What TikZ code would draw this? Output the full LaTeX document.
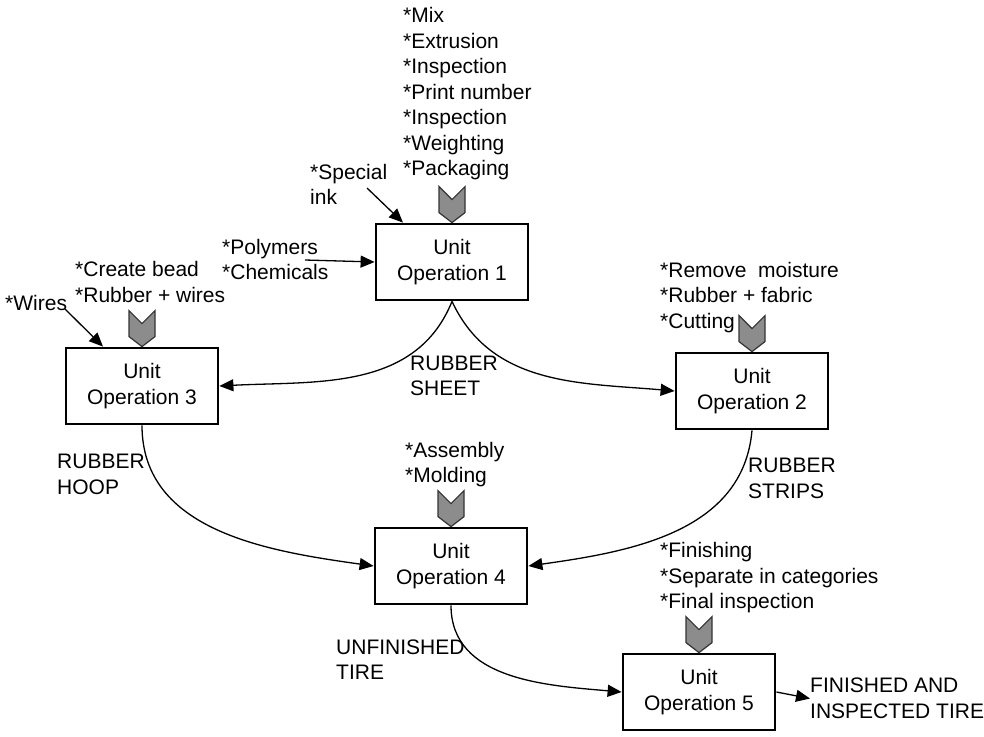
\documentclass[tikz,border=0pt]{standalone}
\usepackage{fontspec}
\setmainfont{Liberation Sans}
\usetikzlibrary{arrows.meta}
\tikzset{
  unitop/.style={draw, line width=2.8pt, minimum width=152pt, minimum height=76pt, align=center, inner sep=0pt},
  note/.style={anchor=west, align=left, inner sep=0pt},
  flow/.style={line width=1.3pt, -{Triangle[length=14pt,width=12pt]}},
  feed/.style={draw=black!80, line width=1.2pt, fill=black!45},
}
\newcommand{\feedmark}[1]{%
  \draw[feed] (#1.north) -- ++(-13,10) -- ++(0,26) -- ++(13,-13) -- ++(13,13) -- ++(0,-26) -- cycle;}
\begin{document}
\begin{tikzpicture}[x=1pt, y=1pt, font=\fontsize{21}{25.5}\selectfont]
\useasboundingbox (0,0) rectangle (984,-736);
% unit operations
\node[unitop] (op1) at (452,-262) {Unit\\Operation 1};
\node[unitop] (op3) at (142,-386) {Unit\\Operation 3};
\node[unitop] (op2) at (752,-391) {Unit\\Operation 2};
\node[unitop] (op4) at (451,-566) {Unit\\Operation 4};
\node[unitop] (op5) at (699,-692) {Unit\\Operation 5};
\feedmark{op1}
\feedmark{op3}
\feedmark{op2}
\feedmark{op4}
\feedmark{op5}
% operation lists
\node[note] (list1) at (403,-94) {*Mix\\*Extrusion\\*Inspection\\*Print number\\*Inspection\\*Weighting\\*Packaging};
\node[note] (list3) at (75,-282) {*Create bead\\*Rubber + wires};
\node[note] (list2) at (660,-297.5) {*Remove\ \ moisture\\*Rubber + fabric\\*Cutting};
\node[note] (list4) at (405,-464.5) {*Assembly\\*Molding};
\node[note] (list5) at (660,-578) {*Finishing\\*Separate in categories\\*Final inspection};
% inputs
\node[note] (ink) at (310,-184.5) {*Special\\ink};
\node[note] (poly) at (222,-259.5) {*Polymers\\*Chemicals};
\node[note] (wires) at (5,-303) {*Wires};
\coordinate (inkend) at (367,-188);
\coordinate (polyend) at (305,-260);
\coordinate (wiresend) at (65,-309);
\draw[flow] (inkend) -- ([xshift=-49pt]op1.north);
\draw[flow] (polyend) -- (op1.west);
\draw[flow] (wiresend) -- ([xshift=-39pt]op3.north);
% products
\node[note] (sheet) at (410,-376) {RUBBER\\SHEET};
\node[note] (hoop) at (57,-474.5) {RUBBER\\HOOP};
\node[note] (strips) at (748,-478.5) {RUBBER\\STRIPS};
\node[note] (unfin) at (336,-659.5) {UNFINISHED\\TIRE};
\node[note] (fin) at (810,-698.5) {FINISHED AND\\INSPECTED TIRE};
\draw[flow] (op1.south) to[out=-112, in=3] (op3.east);
\draw[flow] (op1.south) to[out=-65, in=175] (op2.west);
\draw[flow] (op3.south) to[out=-90, in=172] (op4.west);
\draw[flow] (op2.south) to[out=-95, in=8] (op4.east);
\draw[flow] (op4.south) to[out=-90, in=175] (op5.west);
\draw[flow] (op5.east) -- (fin.west);
\end{tikzpicture}
\end{document}
